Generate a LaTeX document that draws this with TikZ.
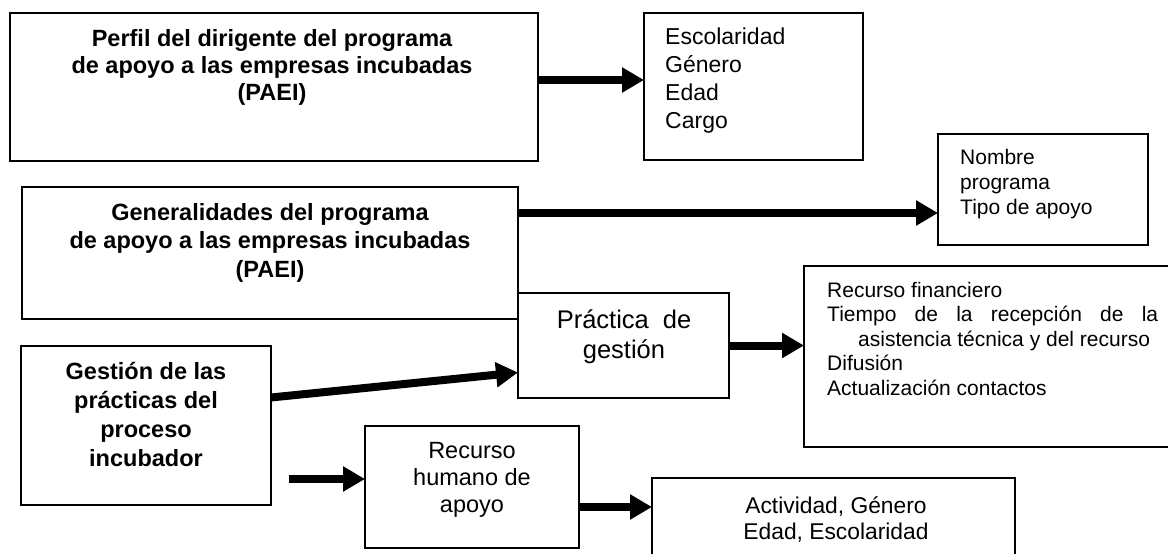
\documentclass[tikz,border=0pt]{standalone}
\usepackage{fontspec}
\setmainfont{Liberation Sans}
\usetikzlibrary{arrows.meta}
\begin{document}
\begin{tikzpicture}[x=1pt,y=-1pt,
  box/.style={draw, line width=2pt, fill=white, anchor=north west, inner sep=0pt, outer sep=0pt},
  arr/.style={line width=8pt, -{Triangle[length=22pt,width=24pt]}},
  ctxt/.style={align=center, anchor=base, inner sep=0pt},
  ltxt/.style={align=left, anchor=base west, inner sep=0pt}
]
\fill[white] (0,0) rectangle (1168,554);
\clip (0,0) rectangle (1168,554);
% boxes
\node[box, minimum width=528pt, minimum height=148pt] (perfil) at (10,13) {};
\node[box, minimum width=219pt, minimum height=147pt] (datos) at (644,13) {};
\node[box, minimum width=210pt, minimum height=111pt] (nombre) at (938,134) {};
\node[box, minimum width=496pt, minimum height=132pt] (gener) at (22,187) {};
\node[box, minimum width=211pt, minimum height=105pt] (practica) at (518,293) {};
\node[box, minimum width=386pt, minimum height=181pt] (recfin) at (804,266) {};
\node[box, minimum width=250pt, minimum height=159pt] (gestion) at (21,346) {};
\node[box, minimum width=214pt, minimum height=122pt] (rechum) at (365,426) {};
\node[box, minimum width=363pt, minimum height=102pt] (activ) at (652,478) {};
% texts (anchor = baseline of the last line)
\node[ctxt, font=\fontsize{23.5pt}{27pt}\selectfont\bfseries] (tperfil) at (272,100)
  {Perfil del dirigente del programa\\de apoyo a las empresas incubadas\\(PAEI)};
\node[ctxt, font=\fontsize{23.5pt}{28.5pt}\selectfont\bfseries] (tgener) at (270,277)
  {Generalidades del programa\\de apoyo a las empresas incubadas\\(PAEI)};
\node[ctxt, font=\fontsize{23.5pt}{29pt}\selectfont\bfseries] (tgest) at (146,466)
  {Gestión de las\\prácticas del\\proceso\\incubador};
\node[ltxt, font=\fontsize{23pt}{27.7pt}\selectfont] (tdatos) at (665,128)
  {Escolaridad\\Género\\Edad\\Cargo};
\node[ltxt, font=\fontsize{21pt}{25pt}\selectfont] (tnombre) at (960,214)
  {Nombre\\programa\\Tipo de apoyo};
\node[ctxt, font=\fontsize{25.5pt}{30pt}\selectfont] (tprac) at (624,358)
  {Práctica\hspace{0.55em}de\\gestión};
\node[ltxt, font=\fontsize{21pt}{24.5pt}\selectfont] (trecfin) at (827,395)
  {Recurso financiero\\\makebox[331pt][s]{Tiempo de la recepción de la}\\\hspace*{31pt}asistencia técnica y del recurso\\Difusión\\Actualización contactos};
\node[ctxt, font=\fontsize{23.5pt}{27pt}\selectfont] (trechum) at (472,512)
  {Recurso\\humano de\\apoyo};
\node[ctxt, font=\fontsize{22.8pt}{26pt}\selectfont] (tactiv) at (836,539)
  {Actividad, Género\\Edad, Escolaridad};
% connectors
\coordinate (s1) at ([yshift=7pt]perfil.east);
\draw[arr] (s1) -- (s1 -| datos.west);
\coordinate (s2) at ([yshift=-26pt]gener.north east);
\draw[arr] (s2) -- (s2 -| nombre.west);
\draw[arr] (practica.east) -- (practica.east -| recfin.west);
\draw[arr] ([yshift=28pt]gestion.east) -- ([yshift=-27pt]practica.west);
\coordinate (s5) at (289,479);
\draw[arr] (s5) -- (s5 -| rechum.west);
\coordinate (s6) at ([yshift=-20pt]rechum.east);
\draw[arr] (s6) -- (s6 -| activ.west);
\end{tikzpicture}
\end{document}
